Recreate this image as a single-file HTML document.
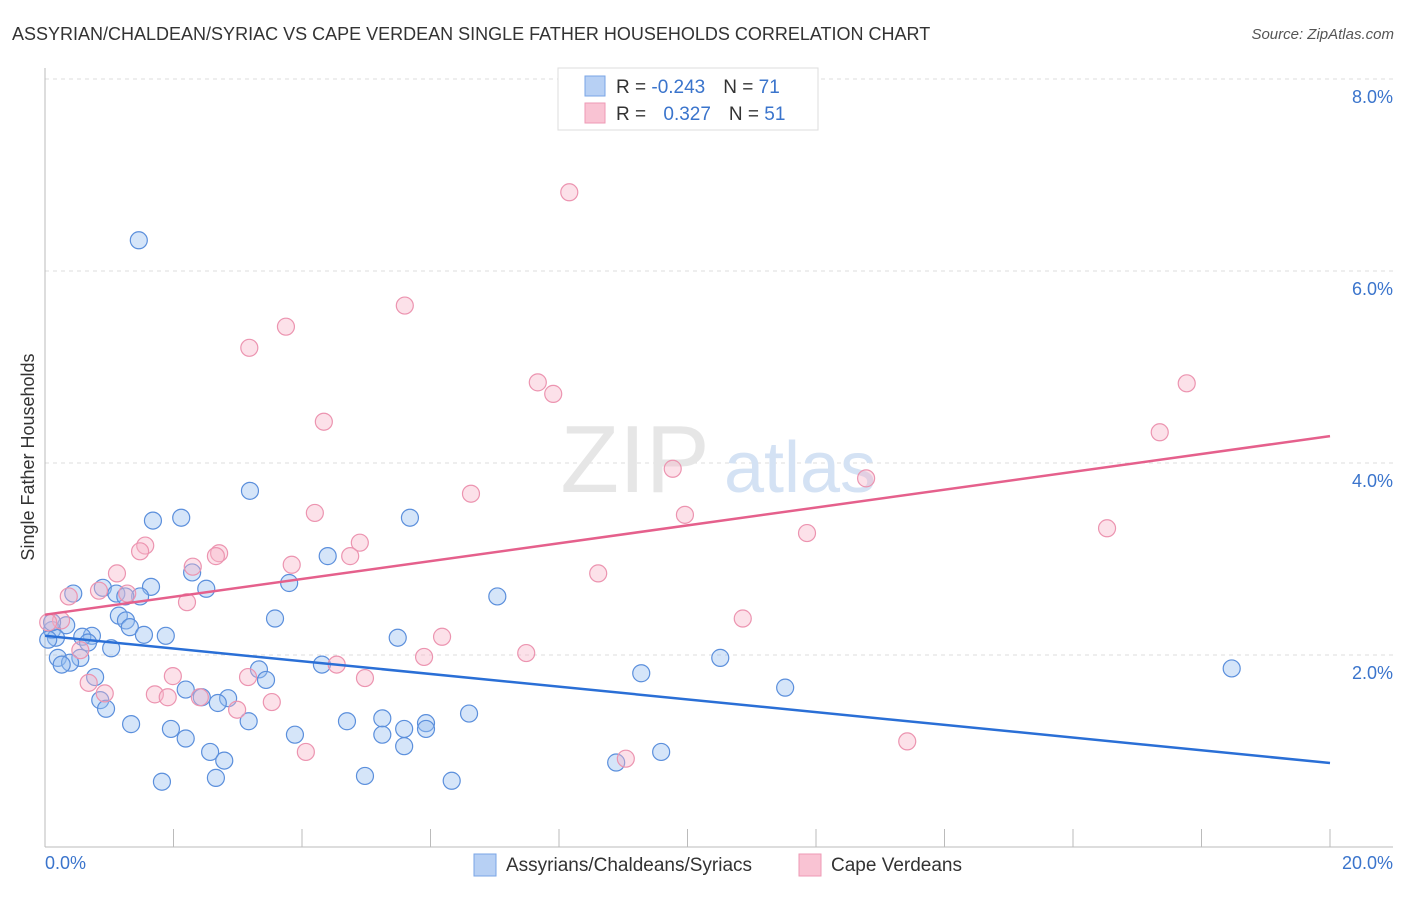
<!DOCTYPE html>
<html><head><meta charset="utf-8"><style>
body{margin:0;background:#fff;font-family:"Liberation Sans",sans-serif;}
svg text{font-family:"Liberation Sans",sans-serif;}
</style></head><body>
<svg width="1406" height="892">
<text x="12" y="40" font-size="18" fill="#333">ASSYRIAN/CHALDEAN/SYRIAC VS CAPE VERDEAN SINGLE FATHER HOUSEHOLDS CORRELATION CHART</text>
<text x="1394" y="39" font-size="15" fill="#555" text-anchor="end" font-style="italic">Source: ZipAtlas.com</text>
<g id="grid"></g>
<text x="635" y="492" font-size="96" fill="#e6e6e6" font-family="Liberation Serif" text-anchor="middle">ZIP</text>
<text x="800" y="492" font-size="72" fill="#d4e2f4" text-anchor="middle">atlas</text>
<line x1="45" y1="68" x2="45" y2="847" stroke="#bbb"/>
<line x1="45" y1="847" x2="1393" y2="847" stroke="#bbb"/>
<text x="34" y="457" font-size="18" fill="#333" text-anchor="middle" transform="rotate(-90 34 457)">Single Father Households</text>
<text x="45" y="869" font-size="18" fill="#3a74cc">0.0%</text>
<text x="1393" y="869" font-size="18" fill="#3a74cc" text-anchor="end">20.0%</text>
<g id="pts"></g>
<g id="lines"></g>
<rect x="558" y="68" width="260" height="62" fill="#fff" stroke="#ddd"/>
<rect x="585" y="76" width="20" height="20" fill="#b7d0f4" stroke="#7aa5e6"/>
<rect x="585" y="103" width="20" height="20" fill="#f9c3d3" stroke="#ee9ab4"/>
<text x="616" y="93" font-size="19" fill="#333">R = <tspan fill="#3a74cc">-0.243</tspan><tspan dx="18">N = </tspan><tspan fill="#3a74cc">71</tspan></text>
<text x="616" y="120" font-size="19" fill="#333">R = <tspan fill="#3a74cc" dx="12">0.327</tspan><tspan dx="18">N = </tspan><tspan fill="#3a74cc">51</tspan></text>
<rect x="474" y="854" width="22" height="22" fill="#b7d0f4" stroke="#7aa5e6"/>
<text x="506" y="871" font-size="19" fill="#333">Assyrians/Chaldeans/Syriacs</text>
<rect x="799" y="854" width="22" height="22" fill="#f9c3d3" stroke="#ee9ab4"/>
<text x="831" y="871" font-size="19" fill="#333">Cape Verdeans</text>
</svg>
<script>
const yTicks=[2,4,6,8];
const yTickLabels=["2.0%","4.0%","6.0%","8.0%"];
const xTicks=[0,2,4,6,8,10,12,14,16,18,20];
const blueX=[1.46,3.19,1.68,2.12,5.68,4.40,2.29,3.80,1.65,2.51,0.90,0.44,1.11,1.48,1.25,7.04,1.15,1.26,1.32,3.58,0.33,0.11,1.54,1.88,0.73,0.58,0.17,0.67,5.49,1.03,0.55,0.20,0.39,0.26,3.33,4.31,10.51,3.44,0.78,9.28,2.19,11.52,18.47,0.86,2.44,2.85,2.69,0.95,6.60,1.34,3.17,4.70,5.25,5.93,5.93,1.96,5.59,3.89,5.25,2.19,5.59,2.57,2.79,9.59,8.89,4.98,2.66,1.82,6.33,0.05,0.11];
const blueY=[6.32,3.71,3.40,3.43,3.43,3.03,2.86,2.75,2.71,2.69,2.70,2.64,2.64,2.61,2.61,2.61,2.41,2.36,2.29,2.38,2.31,2.26,2.21,2.20,2.20,2.19,2.18,2.13,2.18,2.07,1.97,1.97,1.92,1.90,1.85,1.90,1.97,1.74,1.77,1.81,1.64,1.66,1.86,1.53,1.56,1.55,1.50,1.44,1.39,1.28,1.31,1.31,1.34,1.29,1.23,1.23,1.23,1.17,1.17,1.13,1.05,0.99,0.90,0.99,0.88,0.74,0.72,0.68,0.69,2.16,2.34];
const pinkX=[8.16,5.60,3.75,3.18,7.67,7.91,17.77,4.34,17.35,9.77,12.78,6.63,9.96,4.20,16.53,11.86,1.56,1.48,4.90,2.71,2.66,4.75,2.30,3.84,1.12,8.61,0.84,1.28,0.37,2.21,10.86,0.25,0.05,6.18,0.55,7.49,5.90,4.54,3.16,1.99,4.98,0.68,0.93,1.71,1.91,2.41,2.99,3.53,13.42,4.06,9.04];
const pinkY=[6.82,5.64,5.42,5.20,4.84,4.72,4.83,4.43,4.32,3.94,3.84,3.68,3.46,3.48,3.32,3.27,3.14,3.08,3.17,3.06,3.03,3.03,2.92,2.94,2.85,2.85,2.67,2.64,2.61,2.55,2.38,2.36,2.34,2.19,2.05,2.02,1.98,1.90,1.77,1.78,1.76,1.71,1.60,1.59,1.56,1.56,1.43,1.51,1.10,0.99,0.92];
const blueTrend=[2.20,0.875];
const pinkTrend=[2.42,4.28];
const NS="http://www.w3.org/2000/svg";
const sx=v=>45+v*64.25, sy=v=>847-v*96;
function mk(tag,attrs,parent){const e=document.createElementNS(NS,tag);for(const k in attrs)e.setAttribute(k,attrs[k]);document.getElementById(parent).appendChild(e);return e;}
yTicks.forEach((t,i)=>{
 const l=mk('line',{x1:45,x2:1393,y1:sy(t),y2:sy(t),stroke:'#ddd','stroke-dasharray':'4,4'},'grid');
 
 
 const tx=mk('text',{x:1393,y:sy(t)+24,'font-size':18,fill:'#3a74cc','text-anchor':'end'},'grid');
 tx.textContent=yTickLabels[i];
 
 
});
xTicks.forEach(t=>{
 const l=mk('line',{x1:sx(t),x2:sx(t),y1:829,y2:847,stroke:'#bbb'},'grid');
 
 
});
blueX.forEach((x,i)=>{
 const c=mk('circle',{cx:sx(x),cy:sy(blueY[i]),r:8.5,fill:'rgba(150,190,240,0.4)',stroke:'#5b8fdc','stroke-width':1.2},'pts');
 
 
});
pinkX.forEach((x,i)=>{
 const c=mk('circle',{cx:sx(x),cy:sy(pinkY[i]),r:8.5,fill:'rgba(248,180,200,0.4)',stroke:'#ec94b0','stroke-width':1.2},'pts');
 
 
});
const bl=mk('line',{x1:sx(0),y1:sy(blueTrend[0]),x2:sx(20),y2:sy(blueTrend[1]),stroke:'#2a6fd6','stroke-width':2.5},'lines');


const pl=mk('line',{x1:sx(0),y1:sy(pinkTrend[0]),x2:sx(20),y2:sy(pinkTrend[1]),stroke:'#e5608c','stroke-width':2.5},'lines');


</script>
</body></html>
